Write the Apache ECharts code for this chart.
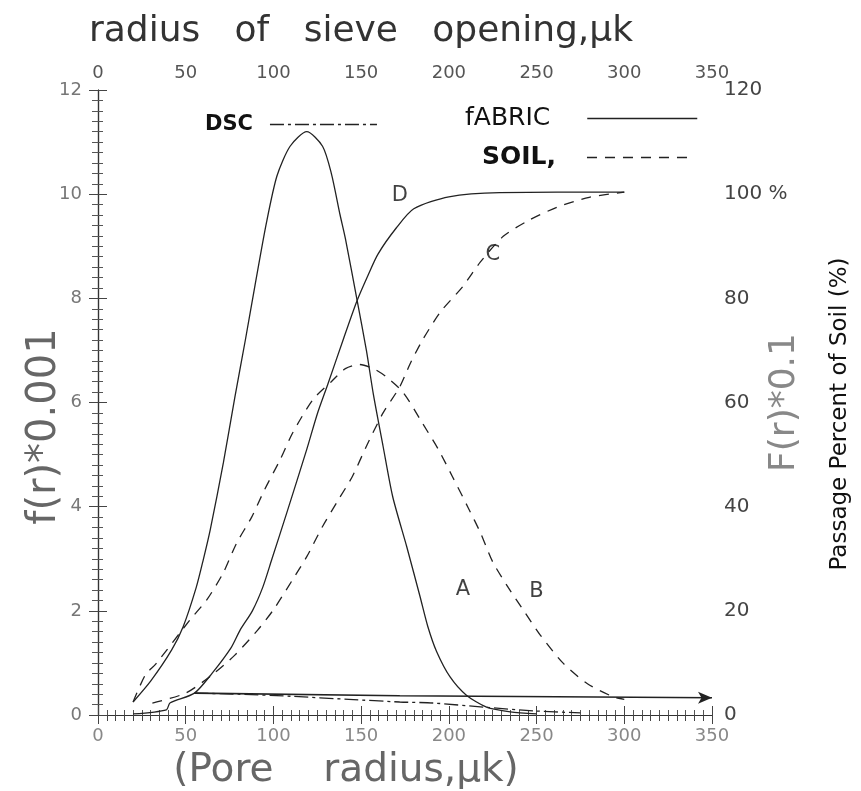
<!DOCTYPE html>
<html>
<head>
<meta charset="utf-8">
<script src="https://cdn.jsdelivr.net/npm/echarts@6/dist/echarts.min.js"></script>
<style>
html,body{margin:0;padding:0;background:#fff;overflow:hidden;}
#chart{width:861px;height:791px;}
</style>
</head>
<body>
<div id="chart"></div>
<script>
// Pore radius (μk) vs value; density curves on left axis (f(r)*0.001), cumulative curves on right axis (%)
const fabricDensity = [[20,0.25],[30,0.65],[42,1.25],[48.6,1.7],[56,2.45],[60,2.98],[64,3.56],[71.5,4.85],[78,6.1],[84,7.2],[89.5,8.25],[96,9.45],[102,10.35],[109.5,10.92],[119,11.2],[128,10.92],[133,10.4],[138,9.6],[141,9.15],[147.6,7.98],[153,7.0],[157,6.15],[162.5,5.16],[168,4.19],[176,3.23],[183.6,2.27],[188,1.7],[193,1.22],[200.7,0.73],[210,0.38],[221.5,0.15],[235,0.06],[250,0.02]];
const soilDensity = [[20,0.25],[27,0.77],[33,0.98],[52.5,1.83],[62,2.21],[71.4,2.73],[79,3.3],[87.6,3.8],[95,4.33],[103.8,4.9],[111,5.42],[122.6,6.06],[133,6.4],[141,6.65],[149,6.73],[157,6.65],[164,6.5],[174,6.19],[185,5.6],[194,5.1],[202,4.58],[211,3.98],[218,3.5],[225,2.94],[234,2.44],[243.5,1.96],[252,1.54],[265,1.0],[279,0.6],[293.6,0.35],[300,0.3]];
const fabricCumulative = [[20,0.2],[39,1],[41,2.3],[55,4.2],[65,8],[76,13],[81,16.3],[88,20],[94,24.6],[99,29.8],[107.6,38.8],[119,51],[125,57.8],[131,63.5],[140,72.3],[147.6,79.5],[154,84.5],[159.6,88.5],[170,93.5],[180,97.2],[200,99.5],[229,100.3],[300,100.4]];
const soilCumulative = [[31,2.3],[50,4.2],[65,7.7],[78,11.5],[91,16.3],[100,20.2],[110.6,25.8],[119,30.4],[128,36.2],[137,41.3],[145,45.8],[153,51.6],[162.5,58],[172,63],[178,67.5],[185,72],[195,77.3],[208,82.3],[218,87],[231,91.9],[244.6,94.8],[261.7,97.5],[280,99.4],[300,100.4]];
const fabricBase = [[55,0.42],[172,0.37],[350,0.33]];
const dscCurve = [[55,0.42],[80,0.40],[110,0.36],[143,0.30],[172,0.25],[191,0.23],[220,0.15],[248,0.08],[275,0.04]];
const curveLabels = [['A',208,2.4],['B',250,2.37],['C',225,8.85],['D',172,9.98]];
const xTicks = [0,50,100,150,200,250,300,350];
const leftTicks = [0,2,4,6,8,10,12];
const rightTicks = [0,20,40,60,80,100,120];

const INK = '#222';
const chart = echarts.init(document.getElementById('chart'));

function line(name, data, yIdx, type, extra) {
  return Object.assign({
    name: name, type: 'line', data: data, yAxisIndex: yIdx,
    smooth: 0.25, symbol: 'none', silent: true,
    lineStyle: {color: INK, width: 1.3, type: type},
    itemStyle: {color: INK}
  }, extra || {});
}

const baseData = fabricBase.map((p, i) => i === fabricBase.length - 1
  ? {value: p, symbol: 'arrow', symbolSize: [9, 14], symbolRotate: -90}
  : {value: p});

const legendCommon = {align: 'right', itemHeight: 12, itemGap: 0, selectedMode: false,
  itemStyle: {opacity: 0}, lineStyle: {color: INK, width: 1.3}};

const option = {
  backgroundColor: '#fff',
  animation: false,
  textStyle: {fontFamily: 'DejaVu Sans'},
  grid: {left: 98, right: 149, top: 90, bottom: 76, containLabel: false, outerBoundsMode: 'none'},
  legend: [
    Object.assign({data: ['DSC'], left: 200, top: 109, itemWidth: 107,
     textStyle: {fontSize: 21, color: '#111', fontWeight: 'bold', padding: [0, 12, 0, 0]}}, legendCommon),
    Object.assign({data: ['fABRIC'], left: 460, top: 101, itemWidth: 110,
     textStyle: {fontSize: 25, color: '#111', padding: [0, 32, 0, 0]}}, legendCommon),
    Object.assign({data: ['SOIL,'], left: 477, top: 140, itemWidth: 106,
     textStyle: {fontSize: 25, color: '#111', fontWeight: 'bold', padding: [0, 26, 0, 0]}}, legendCommon)
  ],
  xAxis: [
    {type: 'value', position: 'bottom', min: 0, max: 350, interval: 50,
     axisLine: {show: true, lineStyle: {color: '#333', width: 1.2}},
     axisTick: {show: true, inside: true, length: 9, lineStyle: {color: '#444'}},
     minorTick: {show: true, splitNumber: 10, length: 5, lineStyle: {color: '#555'}},
     splitLine: {show: false},
     axisLabel: {color: '#888', fontSize: 18, margin: 12, fontFamily: 'DejaVu Sans',
       formatter: v => xTicks.includes(v) ? String(v) : ''},
     name: '(Pore    radius,μk)', nameLocation: 'middle', nameGap: 36, nameMoveOverlap: false,
     nameTextStyle: {fontSize: 39, color: '#666', fontFamily: 'DejaVu Sans', padding: [0, 118, 0, 0]}},
    {type: 'value', position: 'top', min: 0, max: 350, interval: 50,
     axisLine: {show: true, lineStyle: {color: '#333', width: 1.2}},
     axisTick: {show: true, inside: true, length: 9, lineStyle: {color: '#444'}},
     minorTick: {show: true, splitNumber: 10, length: 6, lineStyle: {color: '#444'}},
     splitLine: {show: false},
     axisLabel: {color: '#555', fontSize: 18, margin: 8, fontFamily: 'DejaVu Sans',
       formatter: v => xTicks.includes(v) ? String(v) : ''},
     name: 'radius   of   sieve   opening,μk', nameLocation: 'middle', nameGap: 40, nameMoveOverlap: false,
     nameTextStyle: {fontSize: 36, color: '#333', fontFamily: 'DejaVu Sans', padding: [0, 88, 0, 0]}}
  ],
  yAxis: [
    {type: 'value', position: 'left', min: 0, max: 12, interval: 2,
     axisLine: {show: true, lineStyle: {color: '#333', width: 1.2}},
     axisTick: {show: true, inside: true, length: 9, lineStyle: {color: '#444'}},
     minorTick: {show: true, splitNumber: 10, length: 5, lineStyle: {color: '#555'}},
     splitLine: {show: false},
     axisLabel: {color: '#777', fontSize: 18, margin: 16, fontFamily: 'DejaVu Sans',
       formatter: v => leftTicks.includes(v) ? String(v) : ''},
     name: 'f(r)*0.001', nameLocation: 'middle', nameGap: 33, nameRotate: 90, nameMoveOverlap: false,
     nameTextStyle: {fontSize: 40, color: '#666', fontFamily: 'DejaVu Sans', padding: [0, 48, 0, 0]}},
    {type: 'value', position: 'right', min: 0, max: 120, interval: 20,
     axisLine: {show: true, lineStyle: {color: '#333', width: 1.2}},
     axisTick: {show: true, inside: true, length: 9, lineStyle: {color: '#444'}},
     minorTick: {show: true, splitNumber: 10, length: 6, lineStyle: {color: '#555'}},
     splitLine: {show: false},
     axisLabel: {color: '#444', fontSize: 20, margin: 12, fontFamily: 'DejaVu Sans',
       formatter: v => rightTicks.includes(v) ? (v === 100 ? '100 %' : String(v)) : ''},
     name: 'F(r)*0.1', nameLocation: 'middle', nameGap: 55, nameRotate: 90, nameMoveOverlap: false,
     nameTextStyle: {fontSize: 36, color: '#888', fontFamily: 'DejaVu Sans'}}
  ],
  graphic: [
    {type: 'text', x: 840, y: 414, rotation: Math.PI / 2,
     style: {text: 'Passage Percent of Soil (%)', font: '23px "DejaVu Sans"', fill: '#111',
       textAlign: 'center', textVerticalAlign: 'middle'}}
  ],
  series: [
    line('fABRIC', fabricDensity, 0, 'solid'),
    line('SOIL,', soilDensity, 0, [10, 8]),
    line('fabric F(r)', fabricCumulative, 1, 'solid'),
    line('soil F(r)', soilCumulative, 1, [10, 8]),
    line('fabric base', baseData, 0, 'solid', {smooth: false, showSymbol: true, symbol: 'none', lineStyle: {color: INK, width: 1.6}}),
    line('DSC', dscCurve, 0, [14, 4, 3, 4]),
    {type: 'scatter', name: 'labels', xAxisIndex: 0, yAxisIndex: 0, symbolSize: 0, silent: true,
     data: curveLabels.map(d => ({value: [d[1], d[2]], name: d[0]})),
     label: {show: true, position: 'inside', formatter: p => p.name, fontSize: 21, color: '#111', fontFamily: 'DejaVu Sans'}}
  ]
};
chart.setOption(option);
</script>
</body>
</html>
